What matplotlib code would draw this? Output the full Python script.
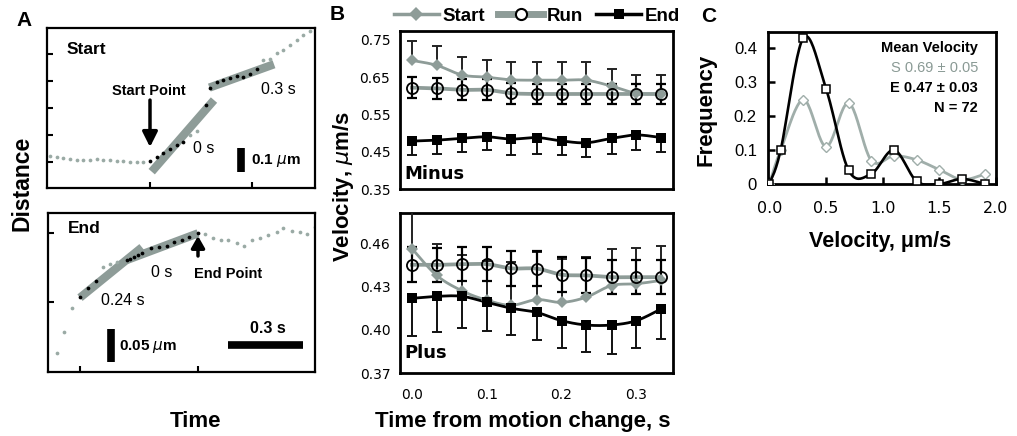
import numpy as np
import matplotlib
matplotlib.use('Agg')
import matplotlib.pyplot as plt
from matplotlib.lines import Line2D

# ---------------- data ----------------
# Panel A (top, "Start"): time (s) and distance (um)
a1_pre_t = [-0.5, -0.467, -0.433, -0.4, -0.367, -0.333, -0.3, -0.267, -0.233, -0.2, -0.167, -0.133, -0.1, -0.067, -0.033]
a1_pre_d = [0.025, 0.022, 0.018, 0.012, 0.008, 0.008, 0.010, 0.012, 0.010, 0.008, 0.006, 0.004, 0.002, 0.0, 0.0]
a1_seg1_t = [0.0, 0.033, 0.067, 0.1, 0.133, 0.167, 0.28]
a1_seg1_d = [0.004, 0.022, 0.039, 0.054, 0.071, 0.082, 0.2375]
a1_mid_t = [0.2, 0.233]
a1_mid_d = [0.1125, 0.129]
a1_seg2_t = [0.3, 0.333, 0.367, 0.4, 0.433, 0.467, 0.5, 0.533]
a1_seg2_d = [0.307, 0.332, 0.342, 0.351, 0.36, 0.355, 0.367, 0.3875]
a1_post_t = [0.567, 0.6, 0.633, 0.667, 0.7, 0.733, 0.767, 0.8]
a1_post_d = [0.425, 0.428, 0.454, 0.467, 0.4875, 0.508, 0.529, 0.546]
a1_fit1_t = [0.0085, 0.32]
a1_fit1_d = [-0.040, 0.258]
a1_fit2_t = [0.297, 0.62]
a1_fit2_d = [0.31, 0.407]

# Panel A (bottom, "End")
a2_pre_t = [-0.565, -0.536, -0.505]
a2_pre_d = [-0.18, -0.1475, -0.1125]
a2_seg1_t = [-0.472, -0.441, -0.409]
a2_seg1_d = [-0.095, -0.0816, -0.0715]
a2_mid_t = [-0.379, -0.352, -0.325]
a2_mid_d = [-0.050, -0.0465, -0.0426]
a2_seg2_t = [-0.285, -0.27, -0.256, -0.24, -0.225, -0.188, -0.156, -0.125, -0.095, -0.065, -0.036, 0.0]
a2_seg2_d = [-0.040, -0.038, -0.0355, -0.033, -0.030, -0.0225, -0.021, -0.0186, -0.0126, -0.010, -0.005, 0.0]
a2_post_t = [0.028, 0.061, 0.092, 0.121, 0.155, 0.185, 0.215, 0.248, 0.281, 0.315, 0.341, 0.375, 0.408, 0.435, 0.468]
a2_post_d = [-0.0015, -0.0066, -0.010, -0.010, -0.015, -0.0186, -0.010, -0.0066, -0.0025, 0.0015, 0.0075, 0.0035, 0.0024, -0.0015, 0.010]
a2_fit1_t = [-0.472, -0.224]
a2_fit1_d = [-0.0965, -0.021]
a2_fit2_t = [-0.285, 0.0]
a2_fit2_d = [-0.040, 0.0]

# Panel B: time from motion change (s)
b_time = [0.0, 0.033, 0.067, 0.1, 0.133, 0.167, 0.2, 0.233, 0.267, 0.3, 0.333]
minus_start = [0.695, 0.682, 0.656, 0.650, 0.643, 0.642, 0.642, 0.642, 0.626, 0.607, 0.605]
minus_start_err = [0.051, 0.051, 0.049, 0.047, 0.047, 0.048, 0.048, 0.048, 0.045, 0.050, 0.050]
minus_run = [0.622, 0.620, 0.616, 0.616, 0.607, 0.605, 0.605, 0.605, 0.605, 0.605, 0.605]
minus_run_err = [0.028, 0.028, 0.028, 0.028, 0.028, 0.028, 0.028, 0.028, 0.028, 0.028, 0.028]
minus_end = [0.4785, 0.481, 0.486, 0.490, 0.484, 0.488, 0.479, 0.474, 0.486, 0.495, 0.488]
minus_end_err = [0.036, 0.036, 0.038, 0.036, 0.043, 0.043, 0.038, 0.038, 0.041, 0.041, 0.038]

plus_start = [0.4563, 0.4377, 0.427, 0.4205, 0.417, 0.4209, 0.419, 0.4226, 0.4307, 0.4319, 0.4342]
plus_start_err = [0.045, 0.022, 0.025, 0.027, 0.030, 0.033, 0.030, 0.028, 0.025, 0.025, 0.024]
plus_run = [0.4451, 0.445, 0.4455, 0.4455, 0.4426, 0.4424, 0.4382, 0.4377, 0.4365, 0.4365, 0.4365]
plus_run_err = [0.012, 0.012, 0.012, 0.012, 0.012, 0.012, 0.012, 0.012, 0.012, 0.012, 0.012]
plus_end = [0.4218, 0.4232, 0.4232, 0.419, 0.4149, 0.412, 0.4063, 0.4033, 0.4033, 0.4063, 0.4144]
plus_end_err = [0.026, 0.0246, 0.022, 0.020, 0.0186, 0.019, 0.019, 0.019, 0.020, 0.019, 0.0205]

# Panel C: velocity histogram
c_vel = [0.0, 0.1, 0.3, 0.5, 0.7, 0.9, 1.1, 1.3, 1.5, 1.7, 1.9]
c_freq_start = [0.0, 0.10, 0.248, 0.11, 0.238, 0.069, 0.083, 0.071, 0.042, 0.013, 0.029]
c_freq_end = [0.0, 0.10, 0.43, 0.28, 0.04, 0.03, 0.10, 0.008, 0.0, 0.015, 0.0]

# ---------------- style ----------------
GREY = '#8e9c98'
DOT = '#9aaaa5'
LGREY = '#a0aeaa'
ARIAL = 'Liberation Sans'
VERD = 'DejaVu Sans'

FW, FH = 1017, 436


def rect(x0, y0, x1, y1):
    return [x0 / FW, 1 - y1 / FH, (x1 - x0) / FW, (y1 - y0) / FH]


def fx(x):
    return x / FW


def fy(y):
    return 1 - y / FH


def smooth(x, y, n=24):
    x = np.asarray(x, float)
    y = np.asarray(y, float)
    m = len(x)
    xs, ys = [x[0]], [y[0]]
    s = np.linspace(0, 1, n)[1:]
    for i in range(m - 1):
        p0 = np.array([x[i], y[i]])
        p3 = np.array([x[i + 1], y[i + 1]])
        pm = np.array([x[i - 1], y[i - 1]]) if i > 0 else p0
        pp = np.array([x[i + 2], y[i + 2]]) if i + 2 < m else p3
        c1 = p0 + (p3 - pm) / 6.0
        c2 = p3 - (pp - p0) / 6.0
        b = ((1 - s) ** 3)[:, None] * p0 + (3 * (1 - s) ** 2 * s)[:, None] * c1 \
            + (3 * (1 - s) * s ** 2)[:, None] * c2 + (s ** 3)[:, None] * p3
        xs.extend(b[:, 0])
        ys.extend(b[:, 1])
    return np.array(xs), np.array(ys)


fig = plt.figure(figsize=(10.17, 4.36), dpi=100)

# ---------------- Panel A ----------------
def style_a(ax):
    for sp in ax.spines.values():
        sp.set_linewidth(1.6)
    ax.tick_params(direction='in', length=4, width=1.5, labelbottom=False, labelleft=False)


axA1 = fig.add_axes(rect(47, 28, 315, 188))
axA1.set_xlim(-0.515, 0.825)
axA1.set_ylim(-0.108, 0.558)
axA1.plot(a1_fit1_t, a1_fit1_d, color=GREY, lw=6, solid_capstyle='butt', zorder=1)
axA1.plot(a1_fit2_t, a1_fit2_d, color=GREY, lw=6, solid_capstyle='butt', zorder=1)
axA1.plot(a1_pre_t, a1_pre_d, 'o', color=DOT, ms=2.7, mew=0, zorder=2)
axA1.plot(a1_mid_t, a1_mid_d, 'o', color=DOT, ms=2.7, mew=0, zorder=2)
axA1.plot(a1_post_t, a1_post_d, 'o', color=DOT, ms=2.7, mew=0, zorder=2)
axA1.plot(a1_seg1_t, a1_seg1_d, 'o', color='black', ms=2.7, mew=0, zorder=3)
axA1.plot(a1_seg2_t, a1_seg2_d, 'o', color='black', ms=2.7, mew=0, zorder=3)
axA1.plot([0.455, 0.455], [-0.042, 0.058], color='black', lw=5.5, solid_capstyle='butt')
axA1.set_xticks([0, 0.51])
axA1.set_yticks([0, 0.1125, 0.225, 0.3375, 0.45])
style_a(axA1)
axA1.annotate('', xy=(0, 0.0625), xytext=(0, 0.258),
              arrowprops=dict(arrowstyle='-|>,head_width=0.45,head_length=0.9', lw=2.5,
                              color='black', shrinkA=0, shrinkB=0))
axA1.text(-0.415, 0.467, 'Start', fontsize=12.5, fontweight='bold', family=ARIAL, va='center', ha='left')
axA1.text(-0.005, 0.296, 'Start Point', fontsize=10.5, fontweight='bold', family=ARIAL, va='center', ha='center')
axA1.text(0.27, 0.058, '0 s', fontsize=11.5, family=ARIAL, va='center', ha='center')
axA1.text(0.64, 0.30, '0.3 s', fontsize=11.5, family=ARIAL, va='center', ha='center')
axA1.text(0.505, 0.008, r'0.1 $\mu$m', fontsize=11, fontweight='bold', family=ARIAL, va='center', ha='left')

axA2 = fig.add_axes(rect(48, 213, 315, 372))
axA2.set_xlim(-0.6, 0.468)
axA2.set_ylim(-0.208, 0.0305)
axA2.plot(a2_fit1_t, a2_fit1_d, color=GREY, lw=6, solid_capstyle='butt', zorder=1)
axA2.plot(a2_fit2_t, a2_fit2_d, color=GREY, lw=6, solid_capstyle='butt', zorder=1)
axA2.plot(a2_pre_t, a2_pre_d, 'o', color=DOT, ms=2.7, mew=0, zorder=2)
axA2.plot(a2_mid_t, a2_mid_d, 'o', color=DOT, ms=2.7, mew=0, zorder=2)
axA2.plot(a2_post_t, a2_post_d, 'o', color=DOT, ms=2.7, mew=0, zorder=2)
axA2.plot(a2_seg1_t, a2_seg1_d, 'o', color='black', ms=2.7, mew=0, zorder=3)
axA2.plot(a2_seg2_t, a2_seg2_d, 'o', color='black', ms=2.7, mew=0, zorder=3)
axA2.plot([-0.348, -0.348], [-0.193, -0.143], color='black', lw=5.5, solid_capstyle='butt')
axA2.plot([0.12, 0.42], [-0.168, -0.168], color='black', lw=5.5, solid_capstyle='butt')
axA2.set_xticks([-0.472, 0])
axA2.set_yticks([-0.1035, 0])
style_a(axA2)
axA2.annotate('', xy=(0, -0.004), xytext=(0, -0.034),
              arrowprops=dict(arrowstyle='-|>,head_width=0.4,head_length=0.7', lw=2.5,
                              color='black', shrinkA=0, shrinkB=0))
axA2.text(-0.52, 0.008, 'End', fontsize=12.5, fontweight='bold', family=ARIAL, va='center', ha='left')
axA2.text(-0.144, -0.058, '0 s', fontsize=11.5, family=ARIAL, va='center', ha='center')
axA2.text(0.12, -0.061, 'End Point', fontsize=10.5, fontweight='bold', family=ARIAL, va='center', ha='center')
axA2.text(-0.30, -0.100, '0.24 s', fontsize=11.5, family=ARIAL, va='center', ha='center')
axA2.text(-0.316, -0.169, r'0.05 $\mu$m', fontsize=11, fontweight='bold', family=ARIAL, va='center', ha='left')
axA2.text(0.28, -0.143, '0.3 s', fontsize=11.5, fontweight='bold', family=ARIAL, va='center', ha='center')

fig.text(fx(24), fy(20), 'A', fontsize=15, fontweight='bold', family=ARIAL, ha='center', va='center')
fig.text(fx(22), fy(183), 'Distance', fontsize=16.5, fontweight='bold', family=ARIAL,
         ha='center', va='center', rotation=90)
fig.text(fx(196), fy(421), 'Time', fontsize=16, fontweight='bold', family=ARIAL, ha='center', va='center')

# ---------------- Panel B ----------------
def draw_b(ax, start, start_err, run, run_err, end, end_err):
    sx, sy = smooth(b_time, run)
    ax.plot(sx, sy, color=GREY, lw=2.7, zorder=2)
    sx, sy = smooth(b_time, start)
    ax.plot(sx, sy, color=GREY, lw=2.0, zorder=3)
    sx, sy = smooth(b_time, end)
    ax.plot(sx, sy, color='black', lw=2.0, zorder=3)
    zero = [0.0] * len(b_time)
    ax.errorbar(b_time, start, yerr=[zero, start_err], fmt='none', ecolor='#222222',
                elinewidth=1.4, capsize=3.5, capthick=1.4, zorder=4)
    ax.errorbar(b_time, run, yerr=run_err, fmt='none', ecolor='black',
                elinewidth=1.6, capsize=3.5, capthick=1.6, zorder=4)
    ax.errorbar(b_time, end, yerr=[end_err, zero], fmt='none', ecolor='#111111',
                elinewidth=1.4, capsize=3.5, capthick=1.4, zorder=4)
    ax.plot(b_time, start, 'D', color=GREY, ms=6, mew=0, zorder=5)
    ax.plot(b_time, end, 's', color='black', ms=6.5, mew=0, zorder=5)
    ax.plot(b_time, run, 'o', mfc='none', mec='black', ms=8, mew=1.3, zorder=6)
    ax.set_xlim(-0.016, 0.349)
    for sp in ax.spines.values():
        sp.set_linewidth(2.0)
    ax.tick_params(length=0, labelsize=10, pad=7)


axB1 = fig.add_axes(rect(400, 31, 673, 189))
draw_b(axB1, minus_start, minus_start_err, minus_run, minus_run_err, minus_end, minus_end_err)
axB1.set_ylim(0.35, 0.774)
axB1.set_yticks([0.35, 0.45, 0.55, 0.65, 0.75])
axB1.set_yticklabels(['0.35', '0.45', '0.55', '0.65', '0.75'], family=VERD, fontsize=10)
axB1.set_xticks([0.0, 0.1, 0.2, 0.3])
axB1.tick_params(labelbottom=False)
axB1.text(0.017, 0.035, 'Minus', transform=axB1.transAxes, fontsize=13, fontweight='bold',
          family=VERD, ha='left', va='bottom')

axB2 = fig.add_axes(rect(400, 213, 673, 373))
draw_b(axB2, plus_start, plus_start_err, plus_run, plus_run_err, plus_end, plus_end_err)
axB2.set_ylim(0.37, 0.481)
axB2.set_yticks([0.37, 0.40, 0.43, 0.46])
axB2.set_yticklabels(['0.37', '0.40', '0.43', '0.46'], family=VERD, fontsize=10)
axB2.set_xticks([0.0, 0.1, 0.2, 0.3])
axB2.set_xticklabels(['0.0', '0.1', '0.2', '0.3'], family=VERD, fontsize=10)
axB2.tick_params(axis='x', pad=11)
axB2.text(0.017, 0.07, 'Plus', transform=axB2.transAxes, fontsize=13, fontweight='bold',
          family=VERD, ha='left', va='bottom')

handles = [
    Line2D([], [], color=GREY, lw=2.5, marker='D', ms=7, mew=0),
    Line2D([], [], color=GREY, lw=5, marker='o', ms=8, mfc='white', mec='black', mew=1.5),
    Line2D([], [], color='black', lw=2.5, marker='s', ms=7, mew=0),
]
fig.legend(handles, ['Start', 'Run', 'End'], loc='center', bbox_to_anchor=(fx(537), fy(16)),
           ncol=3, frameon=False, handlelength=2.4, handletextpad=0.2, columnspacing=0.7,
           prop={'family': ARIAL, 'weight': 'bold', 'size': 13.5})

fig.text(fx(337), fy(15), 'B', fontsize=15, fontweight='bold', family=ARIAL, ha='center', va='center')
fig.text(fx(344), fy(186), r'Velocity, $\mu$m/s', fontsize=16, fontweight='bold', family=ARIAL,
         ha='center', va='center', rotation=90)
fig.text(fx(523), fy(421), 'Time from motion change, s', fontsize=16, fontweight='bold', family=ARIAL,
         ha='center', va='center')

# ---------------- Panel C ----------------
axC = fig.add_axes(rect(768, 32, 996, 184))
sx, sy = smooth(c_vel, c_freq_start)
axC.plot(sx, sy, color=LGREY, lw=2.0, zorder=2)
axC.plot(c_vel, c_freq_start, 'D', mfc='white', mec=LGREY, ms=5, mew=1.0, zorder=3)
sx, sy = smooth(c_vel, c_freq_end)
axC.plot(sx, sy, color='black', lw=1.9, zorder=4)
axC.plot(c_vel, c_freq_end, 's', mfc='white', mec='black', ms=5.5, mew=1.1, zorder=5)
axC.set_xlim(-0.012, 1.985)
axC.set_ylim(0, 0.447)
axC.set_xticks([0.0, 0.5, 1.0, 1.5, 2.0])
axC.set_xticklabels(['0.0', '0.5', '1.0', '1.5', '2.0'], family=VERD, fontsize=11.5)
axC.set_yticks([0, 0.1, 0.2, 0.3, 0.4])
axC.set_yticklabels(['0', '0.1', '0.2', '0.3', '0.4'], family=ARIAL, fontsize=12)
axC.tick_params(direction='in', length=5, width=1.8)
axC.tick_params(axis='x', pad=12)
axC.tick_params(axis='y', pad=8)
for sp in axC.spines.values():
    sp.set_linewidth(2.0)
axC.text(0.921, 0.895, 'Mean Velocity', transform=axC.transAxes, fontsize=10.5, fontweight='bold',
         family=ARIAL, ha='right', va='center')
axC.text(0.921, 0.763, 'S 0.69 ± 0.05', transform=axC.transAxes, fontsize=10.5,
         family=ARIAL, ha='right', va='center', color='#8a9a95')
axC.text(0.921, 0.632, 'E 0.47 ± 0.03', transform=axC.transAxes, fontsize=10.5, fontweight='bold',
         family=ARIAL, ha='right', va='center')
axC.text(0.921, 0.50, 'N = 72', transform=axC.transAxes, fontsize=10.5, fontweight='bold',
         family=ARIAL, ha='right', va='center')

fig.text(fx(709), fy(16), 'C', fontsize=15, fontweight='bold', family=ARIAL, ha='center', va='center')
fig.text(fx(706), fy(110), 'Frequency', fontsize=16, fontweight='bold', family=ARIAL,
         ha='center', va='center', rotation=90)
fig.text(fx(880), fy(241), 'Velocity, μm/s', fontsize=15.5, fontweight='bold', family=ARIAL,
         ha='center', va='center')

fig.savefig('out.png', dpi=100)
